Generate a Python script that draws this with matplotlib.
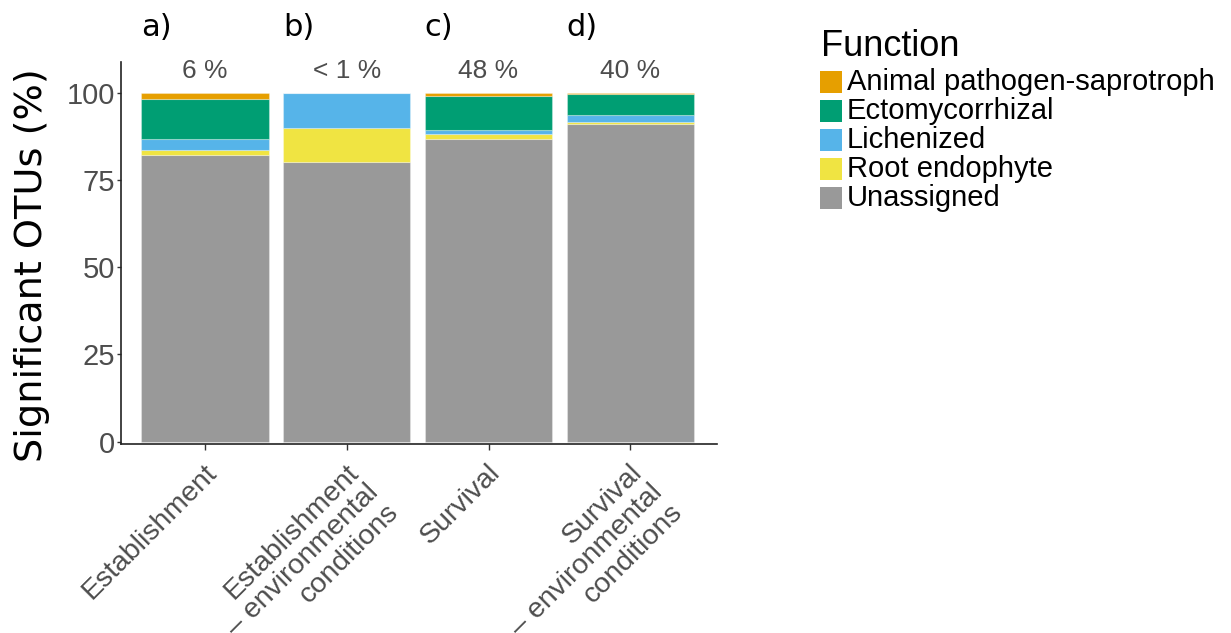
import matplotlib.pyplot as plt
import matplotlib.transforms as mtransforms
from matplotlib.patches import Rectangle

# stacked shares (%) of significant OTUs per guild
groups = ["Establishment",
          "Establishment\n– environmental\nconditions",
          "Survival",
          "Survival\n– environmental\nconditions"]
unassigned = [82.0, 80.0, 86.8, 91.1]
root_endophyte = [1.5, 10.0, 1.3, 0.6]
lichenized = [3.3, 10.0, 1.2, 1.9]
ectomycorrhizal = [11.4, 0.0, 9.8, 6.1]
animal_pathogen = [1.8, 0.0, 0.9, 0.3]

panel_tags = ["a)", "b)", "c)", "d)"]
share_labels = ["6 %", "< 1 %", "48 %", "40 %"]

functions = ["Animal pathogen-saprotroph", "Ectomycorrhizal", "Lichenized",
             "Root endophyte", "Unassigned"]
colors = ["#E69F00", "#009E73", "#56B4E9", "#F0E442", "#999999"]

SANS = ["Liberation Sans", "DejaVu Sans"]
W, H = 1231, 633

fig = plt.figure(figsize=(W / 100, H / 100), dpi=100)
ax = fig.add_axes([121 / W, 1 - 444 / H, 596 / W, 382 / H])

x = list(range(len(groups)))
stack = [unassigned, root_endophyte, lichenized, ectomycorrhizal, animal_pathogen]
stack_colors = colors[::-1]
bottom = [0.0] * len(groups)
for vals, col in zip(stack, stack_colors):
    ax.bar(x, vals, width=0.9, bottom=bottom, color=col,
           edgecolor=(1, 1, 1, 0.3), linewidth=0.8)
    bottom = [b + v for b, v in zip(bottom, vals)]

ax.set_xlim(-0.59, 3.61)
ax.set_ylim(-0.7, 108.8)

for xi, lab in zip(x, share_labels):
    ax.text(xi, 106.2, lab, ha="center", va="center", fontsize=19,
            color="#4D4D4D", family=SANS)

for xi, tag in zip(x, panel_tags):
    ax.text(xi - 0.45, 118.6, tag, ha="left", va="center", fontsize=22,
            color="black", family="DejaVu Sans", clip_on=False)

ax.spines["top"].set_visible(False)
ax.spines["right"].set_visible(False)
for s in ("left", "bottom"):
    ax.spines[s].set_color("#222222")
    ax.spines[s].set_linewidth(1.2)

ax.set_yticks([0, 25, 50, 75, 100])
ax.set_yticklabels(["0", "25", "50", "75", "100"], family=SANS,
                   fontsize=21, color="#4D4D4D")
ax.tick_params(axis="y", length=3, width=1, color="#333333", pad=1)

ax.set_xticks(x)
ax.set_xticklabels(groups, family=SANS, fontsize=20.5, color="#4D4D4D",
                   rotation=45, ha="right", va="top", linespacing=1.1,
                   rotation_mode="anchor", multialignment="right")
ax.tick_params(axis="x", length=4, width=1, color="#333333", pad=4)
shift = mtransforms.ScaledTranslation(-1 / 100, -4 / 100, fig.dpi_scale_trans)
for t in ax.get_xticklabels():
    t.set_transform(t.get_transform() + shift)

ax.set_ylabel("Significant OTUs (%)", fontsize=27.5, family="DejaVu Sans",
              color="black")
ax.yaxis.set_label_coords(-0.119, 0.467)

# legend, laid out by hand in pixel positions of the figure
fig.text(821 / W, 1 - 47 / H, "Function", ha="left", va="center",
         fontsize=26, family=SANS, color="black")
row_y = [82, 111, 140, 169, 198]
for yy, name, col in zip(row_y, functions, colors):
    fig.patches.append(Rectangle((820 / W, 1 - (yy + 11) / H), 22 / W, 22 / H,
                                 transform=fig.transFigure, facecolor=col,
                                 edgecolor="none"))
    fig.text(847 / W, 1 - yy / H, name, ha="left", va="center",
             fontsize=21, family=SANS, color="black")

fig.savefig("out.png", dpi=100)
